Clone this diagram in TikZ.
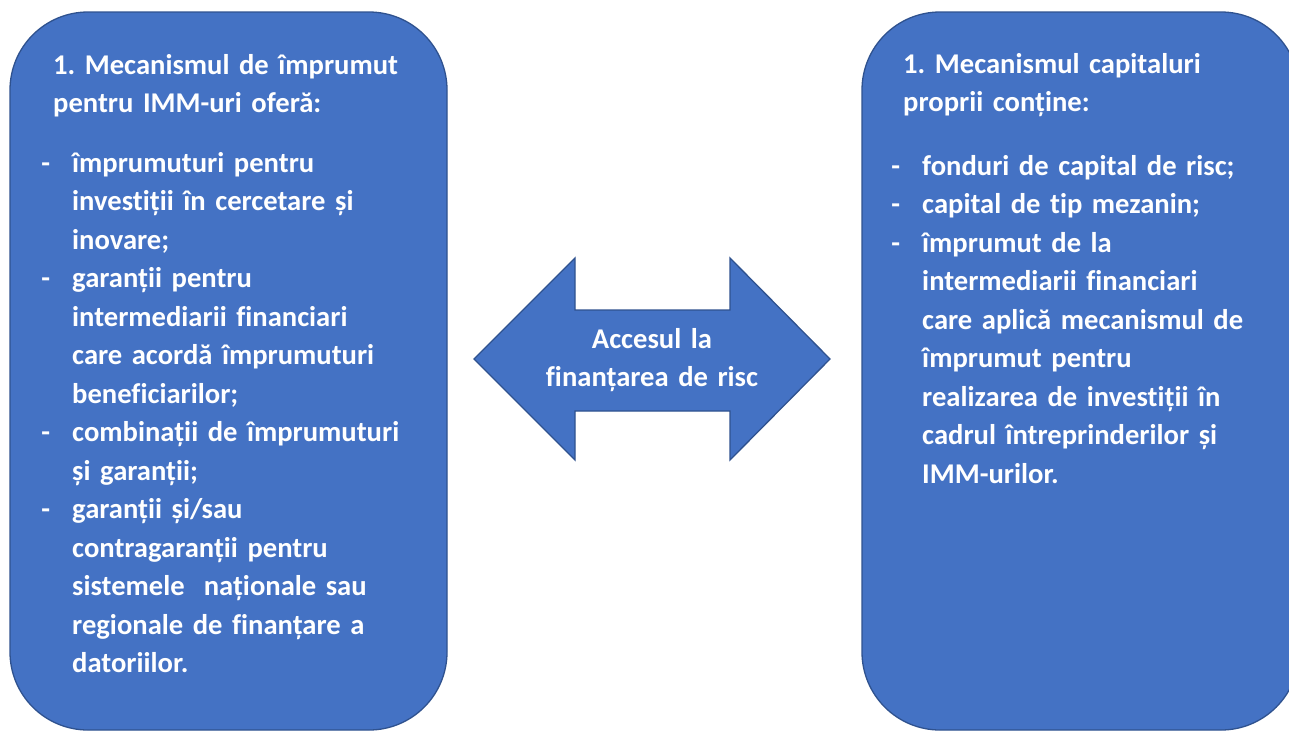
\documentclass[tikz,border=0pt]{standalone}
\usepackage{fontspec}
\setmainfont{Carlito}[Ligatures=CommonOff]
\definecolor{boxBlue}{RGB}{68,114,196}
\definecolor{edgeBlue}{RGB}{47,82,143}
\newcommand{\itemdash}{\leavevmode\llap{-\hspace{22pt}}}
\frenchspacing

\begin{document}
\begin{tikzpicture}[x=1pt,y=-1pt,
    panel/.style={fill=boxBlue,draw=edgeBlue,line width=1.3pt,rounded corners=78pt},
    boxtext/.style={text=white,font=\fontsize{28.6}{38.5}\selectfont\bfseries,
        inner sep=0pt,text width=380pt,align=left,anchor=base west}]
    \useasboundingbox (0,0) rectangle (1289,732);
    \clip (0,0) rectangle (1289,732);

    % Two side panels
    \draw[panel] (10,12) rectangle (447,730);
    \draw[panel] (862,12) rectangle (1299,730);

    % Double arrow in the middle
    \draw[panel,rounded corners=0pt,line join=miter]
        (474,359) -- (575,258) -- (575,310) -- (730,310) -- (730,258)
        -- (830,359) -- (730,460) -- (730,411) -- (575,411) -- (575,460) -- cycle;
    \node[boxtext,text width=260pt,align=center,anchor=base] (access) at (652,348)
        {Accesul la\\finanțarea de risc};

    % Left panel text
    \node[boxtext] (leftHead) at (53,74) {1. Mecanismul de împrumut\\pentru IMM-uri oferă:};
    \node[boxtext] (leftList) at (72,172) {%
        \itemdash împrumuturi pentru\\
        investiții în cercetare și\\
        inovare;\\
        \itemdash garanții pentru\\
        intermediarii financiari\\
        care acordă împrumuturi\\
        beneficiarilor;\\
        \itemdash combinații de împrumuturi\\
        și garanții;\\
        \itemdash garanții și/sau\\
        contragaranții pentru\\
        sistemele~ naționale sau\\
        regionale de finanțare a\\
        datoriilor.};

    % Right panel text
    \node[boxtext] (rightHead) at (903,73) {1. Mecanismul capitaluri\\proprii conține:};
    \node[boxtext] (rightList) at (922,175) {%
        \itemdash fonduri de capital de risc;\\
        \itemdash capital de tip mezanin;\\
        \itemdash împrumut de la\\
        intermediarii financiari\\
        care aplică mecanismul de\\
        împrumut pentru\\
        realizarea de investiții în\\
        cadrul întreprinderilor și\\
        IMM-urilor.};
\end{tikzpicture}
\end{document}
